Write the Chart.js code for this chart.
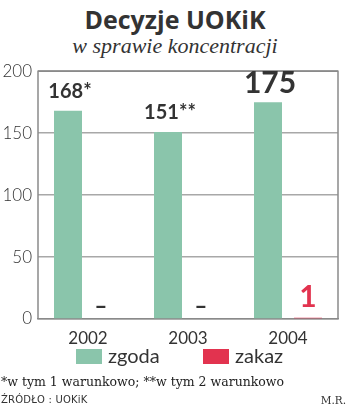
<!DOCTYPE html>
<html>
<head>
<meta charset="utf-8">
<script src="https://cdn.jsdelivr.net/npm/chart.js@4"></script>
<style>
  html, body { margin: 0; padding: 0; background: #fff; }
  body { width: 350px; height: 410px; position: relative; overflow: hidden; font-family: Lato, "Open Sans", sans-serif; color: #333; }
  #title { position: absolute; top: 2px; left: 0; width: 350px; text-align: center; font: bold 25px "Open Sans", sans-serif; color: #333; }
  #subtitle { position: absolute; top: 33px; left: 0; width: 350px; text-align: center; font: italic 22px "Liberation Serif", serif; color: #333; }
  #chart-wrap { position: absolute; top: 55px; left: 0; width: 350px; height: 290px; }
  #legend { position: absolute; top: 346px; left: 0; width: 350px; height: 22px; }
  .sw { position: absolute; top: 3px; width: 26px; height: 15px; }
  .lt { position: absolute; top: -3px; font: 20px Lato, sans-serif; color: #333; }
  #note { position: absolute; top: 374px; left: 1px; font: 12.5px "DejaVu Serif", serif; color: #222; }
  #src { position: absolute; top: 394px; left: 1px; font: 10px "DejaVu Sans", sans-serif; color: #333; letter-spacing: 0.2px; }
  #author { position: absolute; top: 394px; right: 4px; font: 10.5px "DejaVu Serif", serif; color: #333; }
</style>
</head>
<body>
<div id="title">Decyzje UOKiK</div>
<div id="subtitle">w sprawie koncentracji</div>
<div id="chart-wrap"><canvas id="chart"></canvas></div>
<div id="legend"></div>
<div id="note">*w tym 1 warunkowo; **w tym 2 warunkowo</div>
<div id="src">ŹRÓDŁO : UOKiK</div>
<div id="author">M.R.</div>
<script>
// ── DATA ─────────────────────────────────────────────
const years = ['2002', '2003', '2004'];
const zgoda = [168, 151, 175];
const zakaz = [0, 0, 1];
const zgodaLabels = ['168*', '151**', '175'];
const zakazLabels = ['–', '–', '1'];
const yTicks = [0, 50, 100, 150, 200];

const GREEN = '#8ac5ab';
const RED = '#e2334f';

// ── LEGEND ───────────────────────────────────────────
const legendItems = [
  { name: 'zgoda', color: GREEN, x: 76 },
  { name: 'zakaz', color: RED, x: 203 },
];
document.getElementById('legend').innerHTML = legendItems.map(it =>
  `<div class="sw" style="left:${it.x}px;background:${it.color}"></div>` +
  `<div class="lt" style="left:${it.x + 32}px">${it.name}</div>`
).join('');

// ── PLUGINS ──────────────────────────────────────────
const frame = {
  id: 'frame',
  afterDatasetsDraw(chart) {
    const a = chart.chartArea;
    const ctx = chart.ctx;
    ctx.save();
    ctx.strokeStyle = '#8a8a8a';
    ctx.lineWidth = 1.5;
    ctx.beginPath();
    ctx.moveTo(a.left, a.bottom);
    ctx.lineTo(a.left, a.top);
    ctx.lineTo(a.right, a.top);
    ctx.lineTo(a.right, a.bottom);
    ctx.stroke();
    ctx.restore();
  }
};

const valueLabels = {
  id: 'valueLabels',
  afterDatasetsDraw(chart) {
    const ctx = chart.ctx;
    ctx.save();
    ctx.textAlign = 'center';
    ctx.textBaseline = 'middle';
    chart.getDatasetMeta(0).data.forEach((bar, i) => {
      ctx.fillStyle = '#333';
      ctx.font = i === 2 ? 'bold 30px Lato, sans-serif' : 'bold 20px Lato, sans-serif';
      ctx.fillText(zgodaLabels[i], bar.x + 2, bar.y - 19);
    });
    chart.getDatasetMeta(1).data.forEach((bar, i) => {
      if (zakaz[i] > 0) {
        ctx.fillStyle = RED;
        ctx.font = 'bold 30px Lato, sans-serif';
        ctx.fillText(zakazLabels[i], bar.x, bar.y - 20);
      } else {
        ctx.fillStyle = '#333';
        ctx.font = '900 22px Lato, sans-serif';
        ctx.fillText(zakazLabels[i], bar.x - 7, bar.y - 12);
      }
    });
    ctx.restore();
  }
};

// ── CHART ────────────────────────────────────────────
new Chart(document.getElementById('chart'), {
  type: 'bar',
  data: {
    labels: years,
    datasets: [
      { label: 'zgoda', data: zgoda, backgroundColor: GREEN },
      { label: 'zakaz', data: zakaz, backgroundColor: RED },
    ]
  },
  options: {
    responsive: true,
    maintainAspectRatio: false,
    animation: false,
    layout: { padding: { top: 16, right: 12, left: 0, bottom: 0 } },
    datasets: { bar: { categoryPercentage: 0.8, barPercentage: 0.7 } },
    plugins: { legend: { display: false }, tooltip: { enabled: false } },
    scales: {
      x: {
        grid: { display: false },
        border: { color: '#8a8a8a', width: 1.5 },
        ticks: { color: '#333', font: { family: 'Lato', size: 17 }, padding: 1 },
        afterFit: s => { s.height = 26; },
      },
      y: {
        min: 0, max: 200,
        afterBuildTicks: s => { s.ticks = yTicks.map(v => ({ value: v })); },
        grid: { color: '#a8a8a8', lineWidth: 1.5, drawTicks: false },
        border: { display: false },
        ticks: { color: '#333', font: { family: 'Lato', size: 17, weight: '300' }, padding: 6 },
        afterFit: s => { s.width = 38; },
      }
    }
  },
  plugins: [frame, valueLabels]
});
</script>
</body>
</html>
